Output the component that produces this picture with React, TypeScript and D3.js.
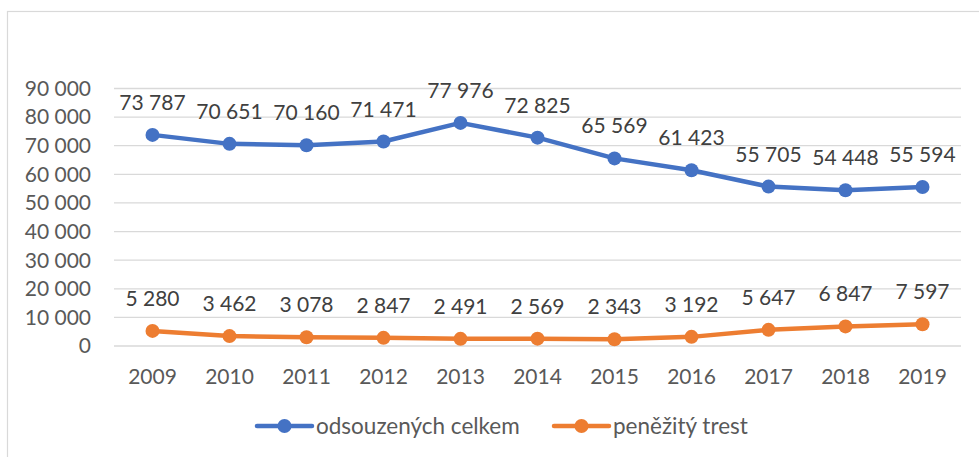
import React from "react";
import * as d3 from "d3";

const years = ["2009","2010","2011","2012","2013","2014","2015","2016","2017","2018","2019"];
const celkem = [73787,70651,70160,71471,77976,72825,65569,61423,55705,54448,55594];
const penezity = [5280,3462,3078,2847,2491,2569,2343,3192,5647,6847,7597];
const yTicks = [0,10000,20000,30000,40000,50000,60000,70000,80000,90000];
const seriesNames = ["odsouzených celkem","peněžitý trest"];
const seriesColors = ["#4472C4","#ED7D31"];

const W = 979, H = 457;
const FONT = "Lato, 'Open Sans', sans-serif";
const FS = 21;

const fmt = (v: number) => d3.format(",")(v).replace(/,/g, " ");

export default function App() {
  const x = d3.scaleBand<string>().domain(years).range([114, 961]);
  const y = d3.scaleLinear().domain([0, 90000]).range([346, 88.5]);
  const line = d3.line<number>()
    .x((_, i) => (x(years[i]) as number) + x.bandwidth() / 2)
    .y((d) => y(d));
  const series = [celkem, penezity];
  const legendX = [257, 554];
  return (
    <svg width={W} height={H} style={{ position: "absolute", left: 0, top: 0, background: "#fff" }}
      fontFamily={FONT}>
      <rect x={7.5} y={11.5} width={W + 20} height={H + 20} fill="#fff" stroke="#D9D9D9" strokeWidth={1.2} />
      {yTicks.map((t) => (
        <g key={t}>
          <line x1={114} x2={961} y1={y(t)} y2={y(t)} stroke="#D9D9D9" strokeWidth={1.3} />
          <text x={91} y={y(t)} dy="0.35em" textAnchor="end" fontSize={FS} fill="#595959">{fmt(t)}</text>
        </g>
      ))}
      {years.map((yr) => (
        <text key={yr} x={(x(yr) as number) + x.bandwidth() / 2} y={384} textAnchor="middle" fontSize={FS} fill="#595959">{yr}</text>
      ))}
      {series.map((s, si) => (
        <g key={si}>
          <path d={line(s) || ""} fill="none" stroke={seriesColors[si]} strokeWidth={4.5} strokeLinejoin="round" />
          {s.map((v, i) => {
            const cx = (x(years[i]) as number) + x.bandwidth() / 2;
            return (
              <g key={i}>
                <circle cx={cx} cy={y(v)} r={7} fill={seriesColors[si]} />
                <text x={cx} y={y(v) - 25} textAnchor="middle" fontSize={FS} fill="#404040">{fmt(v)}</text>
              </g>
            );
          })}
        </g>
      ))}
      {seriesNames.map((n, i) => (
        <g key={n}>
          <line x1={legendX[i]} x2={legendX[i] + 55} y1={426} y2={426} stroke={seriesColors[i]} strokeWidth={4.5} strokeLinecap="round" />
          <circle cx={legendX[i] + 27.5} cy={426} r={7} fill={seriesColors[i]} />
          <text x={legendX[i] + 59} y={426} dy="0.35em" fontSize={22.5} fill="#595959">{n}</text>
        </g>
      ))}
    </svg>
  );
}
